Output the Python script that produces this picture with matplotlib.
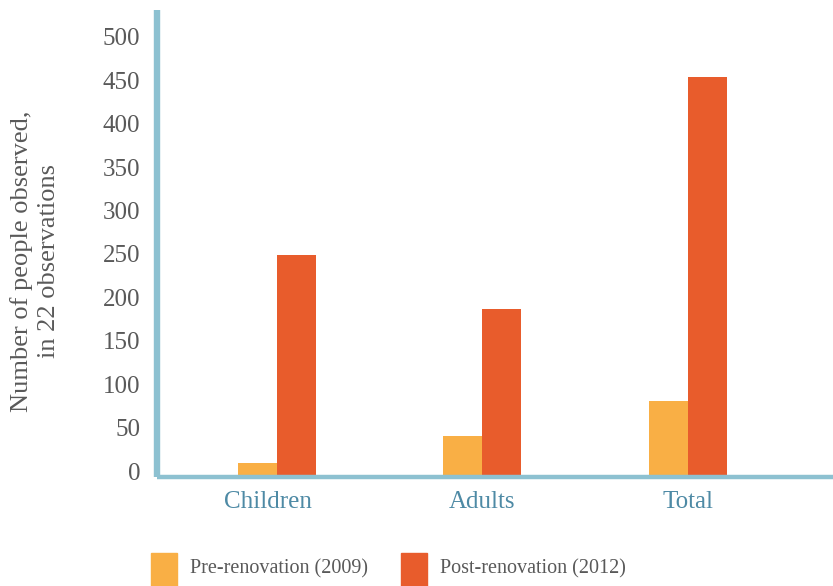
import matplotlib
matplotlib.use("Agg")
import matplotlib.pyplot as plt
import matplotlib.transforms as mtransforms
from matplotlib.patches import Rectangle
import numpy as np

categories = ["Children", "Adults", "Total"]
series_names = ["Pre-renovation (2009)", "Post-renovation (2012)"]
pre_values = [14, 45, 85]
post_values = [253, 191, 459]
y_ticks = [0, 50, 100, 150, 200, 250, 300, 350, 400, 450, 500]

colors = ["#F9AF45", "#E85C2C"]
spine_color = "#8DC1D1"
gray = "#595959"
cat_color = "#4E8AA5"

W, H = 833, 586
plt.rcParams["font.family"] = ["Liberation Serif", "DejaVu Serif"]

fig = plt.figure(figsize=(W / 100, H / 100), dpi=100)
ax_left, ax_right, ax_bottom, ax_top = 156.7, 833, 477, 10
ax = fig.add_axes([ax_left / W, (H - ax_bottom) / H, (ax_right - ax_left) / W, (ax_bottom - ax_top) / H])

x = np.arange(len(categories))
bw = 0.19
ax.bar(x - bw, pre_values, width=bw, align="edge", color=colors[0], label=series_names[0])
ax.bar(x, post_values, width=bw, align="edge", color=colors[1], label=series_names[1])

ax.set_xlim(-0.583, 2.706)
ax.set_ylim(-2.3, 535.7)

for s in ["top", "right"]:
    ax.spines[s].set_visible(False)
ax.spines["left"].set_color(spine_color)
ax.spines["left"].set_linewidth(4.6)
ax.spines["left"].set_capstyle("butt")
ax.spines["bottom"].set_color(spine_color)
ax.spines["bottom"].set_linewidth(3.2)
ax.spines["bottom"].set_capstyle("butt")

ax.set_yticks(y_ticks)
ax.set_yticklabels([str(v) for v in y_ticks])
ax.set_xticks(x)
ax.set_xticklabels(categories)
ax.tick_params(axis="y", length=0, pad=12, labelsize=18, labelcolor=gray)
ax.tick_params(axis="x", length=0, pad=10, labelsize=18, labelcolor=cat_color)

offset = mtransforms.ScaledTranslation(0, 4 / 100, fig.dpi_scale_trans)
for t in ax.yaxis.get_major_ticks():
    t.label1.set_transform(t.label1.get_transform() + offset)
xshift = mtransforms.ScaledTranslation(-9 / 100, 0, fig.dpi_scale_trans)
xt = ax.xaxis.get_major_ticks()
xt[0].label1.set_transform(xt[0].label1.get_transform() + xshift)

fig.text(35 / W, 1 - 261 / H, "Number of people observed,\nin 22 observations",
         rotation=90, ha="center", va="center", multialignment="center",
         fontsize=19, color=gray, linespacing=1.32)

# legend
leg_x = [151, 401]
for i, name in enumerate(series_names):
    fig.add_artist(Rectangle((leg_x[i] / W, 0), 26 / W, 33 / H,
                             transform=fig.transFigure, color=colors[i]))
    fig.text((leg_x[i] + 39) / W, 1 - 569 / H, name, ha="left", va="center",
             fontsize=14.5, color=gray)

fig.savefig("out.png", dpi=100)
